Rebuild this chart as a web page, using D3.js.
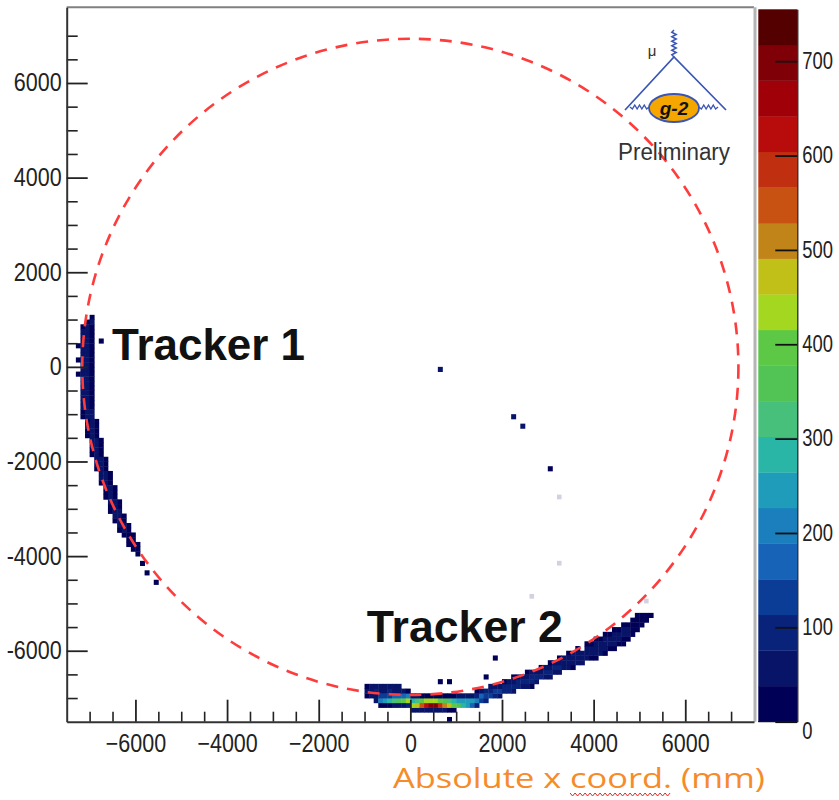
<!DOCTYPE html>
<html><head><meta charset="utf-8">
<script src="https://cdn.jsdelivr.net/npm/d3@7"></script>
<style>body{margin:0;background:#fff} svg{display:block}</style>
</head><body><svg id="c" width="839" height="800"></svg>
<script>
// ---------------- data ----------------
const xDomain = [-7500, 7500];
const yDomain = [-7500, 7600];
const zMax = 755;
const nLevels = 20;
const paletteColors = ["#000056","#081468","#0a237a","#0c3d96","#1663b8","#1a7fbc","#1f9cba","#2ab6a6","#46c07a","#52c456",
  "#5cc846","#a4d820","#c0c018","#c08418","#c85212","#c03010","#b80c0c","#a00008","#800008","#550000"];
const xMajorTicks = [-6000,-4000,-2000,0,2000,4000,6000];
const yMajorTicks = [-6000,-4000,-2000,0,2000,4000,6000];
const minorTicks = [-7000,-6500,-5500,-5000,-4500,-3500,-3000,-2500,-1500,-1000,-500,500,1000,1500,2500,3000,3500,4500,5000,5500,6500,7000];
const zTicks = [0,100,200,300,400,500,600,700];
const binSize = 100; // mm
// Tracker 1: [row lower y, first cell lower x, counts going +x]
const tracker1Rows = [
  [1000,-7000,[20]],[900,-7100,[35,40]],[800,-7200,[25,60,35]],[700,-7200,[45,70,25]],
  [600,-7200,[55,65,30]],[500,-7200,[60,70,20]],[400,-7300,[10,65,60,30]],[300,-7200,[70,65,25]],
  [200,-7200,[60,72,30]],[100,-7300,[15,65,60,20]],[0,-7200,[70,65,25]],[-100,-7200,[60,70,30]],
  [-200,-7300,[10,65,60,20]],[-300,-7200,[55,65,25]],[-400,-7200,[60,60,30]],[-500,-7200,[60,65,20]],
  [-600,-7200,[55,60,25]],[-700,-7200,[50,65,30]],[-800,-7200,[45,60,30]],[-900,-7200,[40,55,35]],
  [-1000,-7200,[20,55,40]],[-1100,-7200,[10,50,45]],[-1200,-7100,[50,45,10]],[-1300,-7100,[45,50,15]],
  [-1400,-7100,[30,50,25]],[-1500,-7100,[20,50,30]],[-1600,-7000,[50,40,10]],[-1700,-7000,[40,50,15]],
  [-1800,-7000,[30,50,20]],[-1900,-7000,[20,50,30]],[-2000,-6900,[50,40,10]],[-2100,-6900,[40,50,15]],
  [-2200,-6900,[30,50,25]],[-2300,-6800,[50,40,10]],[-2400,-6800,[40,45,20]],[-2500,-6800,[25,50,30]],
  [-2600,-6700,[50,40,10]],[-2700,-6700,[35,50,20]],[-2800,-6700,[20,45,35]],[-2900,-6600,[45,40,10]],
  [-3000,-6600,[30,50,25]],[-3100,-6600,[15,45,40]],[-3200,-6500,[40,45,10]],[-3300,-6500,[20,50,30]],
  [-3400,-6400,[40,45,15]],[-3500,-6400,[20,40,30]],[-3600,-6300,[30,35,10]],[-3700,-6200,[30,30]],
  [-3800,-6200,[15,25,10]],[-3900,-6100,[10,15]],[-4000,-6000,[8]]
];
// Tracker 2: [column lower x, first cell lower y, counts going +y]
const tracker2Cols = [
  [-1000,-7000,[20,40,30]],[-900,-7000,[40,60,45]],[-800,-7100,[60,50,110,60]],
  [-700,-7200,[20,220,120,60,40]],[-600,-7200,[30,260,140,70,45]],[-500,-7200,[30,300,150,80,50]],
  [-400,-7200,[40,320,160,70,45]],[-300,-7200,[50,340,170,60,40]],[-200,-7200,[60,380,180,40]],
  [-100,-7200,[80,420,190,30]],
  [0,-7300,[40,440,300,40]],[100,-7300,[50,480,330,40]],[200,-7300,[60,560,380,35]],
  [300,-7300,[60,640,420,30]],[400,-7300,[50,710,450,30]],[500,-7300,[50,680,430,25]],
  [600,-7300,[45,600,400,25]],[700,-7300,[40,520,360,20]],[800,-7300,[35,460,320,20]],
  [900,-7300,[25,400,290,25]],[1000,-7200,[350,260,40]],[1100,-7200,[290,250,50]],
  [1200,-7200,[230,240,60]],[1300,-7200,[170,230,70]],[1400,-7200,[110,220,90,15]],
  [1500,-7100,[150,160,60]],[1600,-7100,[100,150,80]],[1700,-7000,[140,110,40]],
  [1800,-7000,[110,120,50]],[1900,-7000,[70,120,70]],[2000,-6900,[110,90,30]],
  [2100,-6900,[80,110,50]],[2200,-6900,[50,100,70,20]],[2300,-6800,[90,90,30]],
  [2400,-6800,[60,100,50]],[2500,-6800,[40,90,70,20]],[2600,-6700,[80,80,40]],
  [2700,-6700,[50,90,60]],[2800,-6600,[80,70,30]],[2900,-6600,[60,80,40]],
  [3000,-6600,[40,80,60,20]],[3100,-6500,[70,80,40]],[3200,-6500,[50,80,60,15]],
  [3300,-6400,[60,70,40]],[3400,-6400,[40,70,60,15]],[3500,-6400,[20,60,70,40]],
  [3600,-6300,[50,70,50,15]],[3700,-6300,[50,70,50]],[3800,-6200,[50,60,50,20]],
  [3900,-6200,[30,55,60,35]],[4000,-6200,[15,50,60,45,15]],[4100,-6100,[40,55,50,25]],
  [4200,-6100,[20,45,55,40,10]],[4300,-6000,[35,50,45,25]],[4400,-6000,[20,40,50,40,15]],
  [4500,-5900,[35,45,45,25]],[4600,-5900,[15,35,45,40,15]],[4700,-5800,[25,40,40,25]],
  [4800,-5700,[25,35,35,20]],[4900,-5600,[20,30,30,15]],[5000,-5500,[15,20,15]],
  [5100,-5400,[8,10]],[5200,-5300,[5]]
];
// isolated hits: [lower x, lower y, count]
const strayHits = [
  [-6800,500,15],[-7100,-1200,10],[-5900,-4200,8],[-5800,-4400,10],[-5600,-4600,8],
  [600,-100,60],[2200,-1100,50],[2400,-1300,40],[3000,-2200,30],
  [1800,-6200,20],[1600,-6600,20],[800,-7500,15],[600,-6700,15],[800,-6700,15],[2600,-6800,15]
];
const faintHits = [[3200,-2800],[3200,-4200],[2600,-4900],[5100,-5000]];
const ringRadiusX = 7160, ringRadiusY = 6935;
const annotations = [{text:"Tracker 1", x:-6510, y:150, len:193},{text:"Tracker 2", x:-950, y:-5810, len:196}];
const xTitle = "Absolute x coord. (mm)";

// ---------------- layout ----------------
const frame = {l:66.7, r:754, t:7.3, b:721.7};
const bar = {l:758.3, r:797.3, t:9.3, b:721.7};
const svg = d3.select("#c");
const xs = d3.scaleLinear().domain(xDomain).range([frame.l, frame.r]);
const ys = d3.scaleLinear().domain(yDomain).range([frame.b, frame.t]);
const zs = d3.scaleLinear().domain([0, zMax]).range([bar.b, bar.t]);
const color = d3.scaleQuantize().domain([0, zMax]).range(paletteColors);
const tickFont = "'Liberation Sans',Arial,sans-serif";

function condense(sel, f){
  sel.each(function(){
    const w = this.getComputedTextLength();
    d3.select(this).attr("textLength", w*f).attr("lengthAdjust", "spacingAndGlyphs");
  });
}

// cells
const cells = [];
tracker1Rows.forEach(([y0,x0,cs]) => cs.forEach((c,i) => cells.push({x:x0+i*binSize, y:y0, c})));
tracker2Cols.forEach(([x0,y0,cs]) => cs.forEach((c,i) => cells.push({x:x0, y:y0+i*binSize, c})));
strayHits.forEach(([x,y,c]) => cells.push({x, y, c}));

svg.append("g").selectAll("rect").data(faintHits).join("rect")
  .attr("x", d => xs(d[0])).attr("y", d => ys(d[1]+binSize))
  .attr("width", d => xs(d[0]+binSize)-xs(d[0])).attr("height", d => ys(d[1])-ys(d[1]+binSize))
  .attr("fill", "#000056").attr("opacity", 0.18);

svg.append("g").selectAll("rect").data(cells).join("rect")
  .attr("x", d => xs(d.x)).attr("y", d => ys(d.y+binSize))
  .attr("width", d => xs(d.x+binSize)-xs(d.x)+0.4)
  .attr("height", d => ys(d.y)-ys(d.y+binSize)+0.4)
  .attr("fill", d => color(d.c));

// dashed ring
svg.append("ellipse")
  .attr("cx", xs(0)).attr("cy", ys(0))
  .attr("rx", xs(ringRadiusX)-xs(0)).attr("ry", ys(0)-ys(ringRadiusY))
  .attr("fill", "none").attr("stroke", "#ff3c3c").attr("stroke-width", 2.6)
  .attr("stroke-dasharray", "12,9");

// frame top/right
svg.append("line").attr("x1", frame.l).attr("x2", frame.r).attr("y1", frame.t).attr("y2", frame.t)
  .attr("stroke", "#808080").attr("stroke-width", 2);
svg.append("line").attr("x1", frame.r+1).attr("x2", frame.r+1).attr("y1", frame.t).attr("y2", frame.b)
  .attr("stroke", "#b4b4b4").attr("stroke-width", 3);

function styleAxis(g){
  g.select(".domain").attr("stroke", "#333").attr("stroke-width", 2);
  g.selectAll(".tick line").attr("stroke", "#222").attr("stroke-width", 1.8);
  g.selectAll("text").attr("font-family", tickFont).attr("font-size", 25).attr("fill", "#222").call(condense, 0.86);
}
// minor ticks
svg.append("g").attr("transform", `translate(0,${frame.b})`)
  .call(d3.axisBottom(xs).tickValues(minorTicks).tickSize(-10).tickFormat(""))
  .call(g => { g.select(".domain").remove(); g.selectAll("line").attr("stroke","#222").attr("stroke-width",1.6); });
svg.append("g").attr("transform", `translate(${frame.l},0)`)
  .call(d3.axisLeft(ys).tickValues(minorTicks).tickSize(-11).tickFormat(""))
  .call(g => { g.select(".domain").remove(); g.selectAll("line").attr("stroke","#222").attr("stroke-width",1.6); });
// major axes
svg.append("g").attr("transform", `translate(0,${frame.b})`)
  .call(d3.axisBottom(xs).tickValues(xMajorTicks).tickSizeInner(-22).tickSizeOuter(0).tickPadding(13).tickFormat(d3.format("d")))
  .call(styleAxis);
svg.append("g").attr("transform", `translate(${frame.l},0)`)
  .call(d3.axisLeft(ys).tickValues(yMajorTicks).tickSizeInner(-21).tickSizeOuter(0).tickPadding(5).tickFormat(d => String(d)))
  .call(styleAxis);

// colour bar
const levelStep = zMax / nLevels;
svg.append("g").selectAll("rect").data(paletteColors).join("rect")
  .attr("x", bar.l).attr("width", bar.r-bar.l)
  .attr("y", (d,i) => zs((i+1)*levelStep)).attr("height", (d,i) => zs(i*levelStep)-zs((i+1)*levelStep)+0.3)
  .attr("fill", d => d);
svg.append("g").attr("transform", `translate(${bar.r},0)`)
  .call(d3.axisRight(zs).tickValues(zTicks).tickSizeInner(-22).tickSizeOuter(0).tickPadding(5).tickFormat(d3.format("d")))
  .call(g => {
    g.select(".domain").attr("stroke", "#111").attr("stroke-width", 1.2);
    g.selectAll(".tick line").attr("stroke", "#111").attr("stroke-width", 1.8);
    g.selectAll("text").attr("font-family", tickFont).attr("font-size", 23).attr("fill", "#222")
      .attr("x", 0).attr("transform", "translate(5,0) scale(0.8,1)");
    g.selectAll(".tick").filter(d => d === 0).select("text").attr("dy", "0.75em");
  });
svg.append("line").attr("x1", bar.l).attr("x2", bar.r).attr("y1", bar.b).attr("y2", bar.b)
  .attr("stroke", "#111").attr("stroke-width", 1.2);

// tracker annotations
svg.append("g").selectAll("text").data(annotations).join("text")
  .attr("x", d => xs(d.x)).attr("y", d => ys(d.y))
  .attr("font-family", "'Liberation Sans',Arial,sans-serif").attr("font-weight", "bold")
  .attr("font-size", 44).attr("fill", "#111")
  .attr("textLength", d => d.len).attr("lengthAdjust", "spacingAndGlyphs")
  .text(d => d.text);

// x-axis title with spell-check squiggle
const title = svg.append("text").attr("x", 393).attr("y", 788)
  .attr("font-family", "'Open Sans',Lato,sans-serif").attr("font-size", 28).attr("fill", "#f68b2a")
  .attr("textLength", 372).attr("lengthAdjust", "spacingAndGlyphs").text(xTitle);
{
  const node = title.node();
  const i0 = xTitle.indexOf("coord."), i1 = i0 + "coord.".length - 1;
  const x0 = node.getStartPositionOfChar(i0).x, x1 = node.getEndPositionOfChar(i1).x;
  const yb = 794, pts = [];
  for (let x = x0, k = 0; x <= x1; x += 2.5, k++) pts.push([x, yb + (k % 2 ? 2 : -1)]);
  svg.append("path").attr("d", d3.line()(pts)).attr("fill", "none").attr("stroke", "#e02828").attr("stroke-width", 1);
}

// g-2 logo
const logo = svg.append("g").attr("transform", "translate(674,57)");
const blue = "#3a55b5";
function spring(x0, y0, x1, y1, n, amp){
  const pts = [];
  for (let k = 0; k <= n; k++){
    const t = k/n, off = (k===0||k===n) ? 0 : (k%2 ? amp : -amp);
    const dx = x1-x0, dy = y1-y0, L = Math.hypot(dx,dy);
    pts.push([x0+dx*t - dy/L*off, y0+dy*t + dx/L*off]);
  }
  return d3.line()(pts);
}
logo.append("path").attr("d", spring(0,-27,0,0,12,2.2)).attr("fill","none").attr("stroke",blue).attr("stroke-width",1.5);
logo.append("path").attr("d", "M-49,53L0,0L52,53").attr("fill","none").attr("stroke",blue).attr("stroke-width",1.7);
logo.append("path").attr("d", spring(-44,50,-25,50,8,2)).attr("fill","none").attr("stroke",blue).attr("stroke-width",1.4);
logo.append("path").attr("d", spring(25,50,44,50,8,2)).attr("fill","none").attr("stroke",blue).attr("stroke-width",1.4);
logo.append("ellipse").attr("cx",0).attr("cy",51).attr("rx",25).attr("ry",14)
  .attr("fill","#f5a700").attr("stroke",blue).attr("stroke-width",1.8);
logo.append("text").attr("x",0).attr("y",58).attr("text-anchor","middle")
  .attr("font-family","'Liberation Sans',Arial,sans-serif").attr("font-weight","bold").attr("font-style","italic")
  .attr("font-size",19).attr("fill","#111").text("g-2");
logo.append("text").attr("x",-22).attr("y",-1).attr("text-anchor","middle")
  .attr("font-family","'Liberation Sans',Arial,sans-serif").attr("font-size",15).attr("fill","#333").text("μ");
logo.append("text").attr("x",-56).attr("y",103)
  .attr("font-family","'Liberation Sans',Arial,sans-serif").attr("font-size",23).attr("fill","#333")
  .attr("textLength",112).attr("lengthAdjust","spacingAndGlyphs").text("Preliminary");
</script></body></html>
